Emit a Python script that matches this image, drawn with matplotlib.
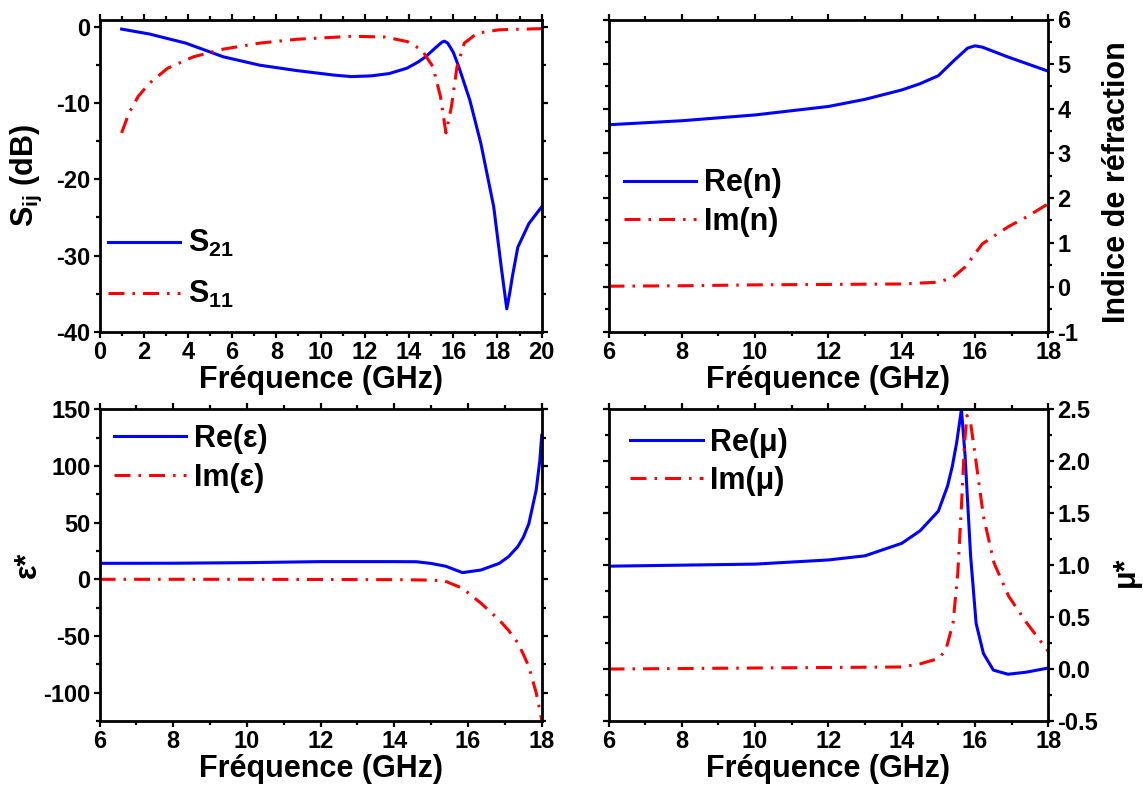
import matplotlib
matplotlib.use('Agg')
import matplotlib.pyplot as plt
from matplotlib.ticker import MultipleLocator

plt.rcParams['font.family'] = ['Liberation Sans', 'DejaVu Sans']
plt.rcParams['font.weight'] = 'bold'
plt.rcParams['axes.labelweight'] = 'bold'
plt.rcParams['axes.unicode_minus'] = False
plt.rcParams['mathtext.fontset'] = 'custom'
plt.rcParams['mathtext.rm'] = 'Liberation Sans:bold'
plt.rcParams['mathtext.it'] = 'Liberation Sans:bold'
plt.rcParams['mathtext.bf'] = 'Liberation Sans:bold'
plt.rcParams['lines.scale_dashes'] = False

# --- S parameters (0-20 GHz)
f_s21 = [1, 2.25, 3.9, 5.6, 7.25, 8.9, 10.6, 11.4, 12.3, 13.1, 13.9, 14.4, 14.75, 15.2,
         15.5, 15.6, 15.75, 16.0, 16.25, 16.75, 17.25, 17.83, 18.17, 18.42, 18.55, 18.67,
         18.92, 19.42, 20]
s21 = [-0.26, -0.9, -2.1, -3.9, -5.0, -5.7, -6.3, -6.5, -6.4, -6.1, -5.4, -4.6, -3.9, -2.7,
       -1.95, -1.85, -2.1, -3.3, -5.2, -9.6, -15.3, -23.6, -31.5, -37.0, -35.0, -32.8,
       -28.9, -25.8, -23.6]
f_s11 = [1, 1.33, 1.75, 2.25, 3.08, 4.25, 5.58, 7.25, 8.92, 11.42, 12.92, 13.92, 14.58,
         15.08, 15.42, 15.67, 15.92, 16.17, 16.5, 17.08, 18.08, 20]
s11 = [-13.9, -11.3, -9.1, -7.4, -5.4, -3.9, -2.9, -2.1, -1.6, -1.2, -1.3, -1.9, -3.0,
       -5.2, -9.1, -13.9, -10.4, -5.2, -2.1, -0.8, -0.35, -0.2]

# --- refractive index (6-18 GHz)
f_ren = [6, 8, 10, 12, 13, 14, 14.5, 15, 15.4, 15.8, 16, 16.2, 16.9, 18]
re_n = [3.64, 3.73, 3.86, 4.05, 4.21, 4.42, 4.56, 4.74, 5.06, 5.36, 5.41, 5.38, 5.16, 4.84]
f_imn = [6, 8, 10, 12, 14, 15, 15.4, 15.73, 15.93, 16.2, 16.9, 17.4, 18]
im_n = [0.02, 0.03, 0.05, 0.06, 0.07, 0.11, 0.22, 0.45, 0.67, 0.97, 1.35, 1.57, 1.87]

# --- permittivity
f_ree = [6, 8, 10, 12, 14, 14.6, 15, 15.4, 15.85, 16.35, 16.85, 17.1, 17.35, 17.5, 17.65,
         17.85, 17.95, 18]
re_eps = [14.1, 14.2, 14.7, 15.6, 15.6, 15.5, 14.0, 11.5, 5.9, 8.2, 14.1, 20, 28.8, 37, 49,
          78.7, 105, 127]
f_ime = [6, 10, 14, 14.8, 15.35, 15.85, 16.35, 16.85, 17.1, 17.35, 17.5, 17.65, 17.85, 18]
im_eps = [0, 0, -0.3, -0.6, -1.2, -7.9, -21, -36, -45, -56, -66, -77, -100, -124]

# --- permeability
f_rem = [6, 10, 12, 13, 14, 14.5, 15, 15.25, 15.38, 15.5, 15.63, 15.73, 15.88, 16.03, 16.23,
         16.5, 16.9, 17.4, 18]
re_mu = [0.99, 1.01, 1.05, 1.09, 1.21, 1.33, 1.52, 1.76, 1.95, 2.18, 2.5, 2.05, 1.09, 0.44,
         0.15, -0.01, -0.05, -0.03, 0.01]
f_imm = [6, 10, 14, 14.5, 15, 15.2, 15.4, 15.53, 15.63, 15.71, 15.78, 15.88, 16.03, 16.23,
         16.52, 16.92, 17.42, 18]
im_mu = [0, 0.01, 0.02, 0.05, 0.1, 0.18, 0.44, 0.92, 1.57, 2.15, 2.44, 2.37, 1.99, 1.47,
         1.02, 0.70, 0.44, 0.17]

BLUE = '#0000ff'
RED = '#ff0000'
LW = 2.2
DASH = (0, (11.5, 5.8, 1.8, 5.8))

fig = plt.figure(figsize=(11.43, 7.94), dpi=100)
W, H = 1143, 794


def make_ax(x0, x1, y0, y1):
    return fig.add_axes([x0 / W, 1 - y1 / H, (x1 - x0) / W, (y1 - y0) / H])


def style(ax, right_labels=False):
    for sp in ax.spines.values():
        sp.set_linewidth(2.0)
    ax.tick_params(which='both', direction='out', top=True, right=True, width=1.6,
                   labelsize=17, pad=2)
    ax.tick_params(which='major', length=4.5)
    ax.tick_params(which='minor', length=3)
    if right_labels:
        ax.tick_params(labelleft=False, labelright=True)
    ax.set_xlabel('Fréquence (GHz)', fontsize=22, labelpad=1)


def leg(ax, x, y, spacing):
    ax.legend(loc='upper left', bbox_to_anchor=(x, y), frameon=False, fontsize=22,
              handlelength=2.36, handletextpad=0.25, labelspacing=spacing,
              borderpad=0, borderaxespad=0)


ax1 = make_ax(99.5, 541.7, 19.5, 331.7)
ax2 = make_ax(608.5, 1048.3, 19.5, 331.7)
ax3 = make_ax(99.5, 541.7, 409.3, 721)
ax4 = make_ax(608.5, 1048.3, 409.3, 721)

# panel 1
ax1.plot(f_s21, s21, color=BLUE, lw=LW, label='S$_{21}$')
ax1.plot(f_s11, s11, color=RED, lw=LW, linestyle=DASH, label='S$_{11}$')
ax1.set_xlim(0, 20)
ax1.set_ylim(-40, 1)
ax1.xaxis.set_major_locator(MultipleLocator(2))
ax1.xaxis.set_minor_locator(MultipleLocator(1))
ax1.yaxis.set_major_locator(MultipleLocator(10))
ax1.yaxis.set_minor_locator(MultipleLocator(5))
style(ax1)
ax1.set_ylabel('S$_{ij}$ (dB)', fontsize=22)
ax1.yaxis.set_label_coords(-0.125, 0.5)
leg(ax1, 0.02, 0.331, 0.65)

# panel 2
ax2.plot(f_ren, re_n, color=BLUE, lw=LW, label='Re(n)')
ax2.plot(f_imn, im_n, color=RED, lw=LW, linestyle=DASH, label='Im(n)')
ax2.set_xlim(6, 18)
ax2.set_ylim(-1, 6)
ax2.xaxis.set_major_locator(MultipleLocator(2))
ax2.xaxis.set_minor_locator(MultipleLocator(1))
ax2.yaxis.set_major_locator(MultipleLocator(1))
ax2.yaxis.set_minor_locator(MultipleLocator(0.5))
style(ax2, right_labels=True)
ax2.yaxis.set_label_position('right')
ax2.set_ylabel('Indice de réfraction', fontsize=22)
ax2.yaxis.set_label_coords(1.121, 0.48)
leg(ax2, 0.035, 0.523, 0.28)

# panel 3
ax3.plot(f_ree, re_eps, color=BLUE, lw=LW, label='Re(ε)')
ax3.plot(f_ime, im_eps, color=RED, lw=LW, linestyle=DASH, label='Im(ε)')
ax3.set_xlim(6, 18)
ax3.set_ylim(-125, 150)
ax3.xaxis.set_major_locator(MultipleLocator(2))
ax3.xaxis.set_minor_locator(MultipleLocator(1))
ax3.yaxis.set_major_locator(MultipleLocator(50))
ax3.yaxis.set_minor_locator(MultipleLocator(25))
style(ax3)
ax3.set_ylabel('ε*', fontsize=22)
ax3.yaxis.set_label_coords(-0.128, 0.5)
leg(ax3, 0.033, 0.953, 0.28)

# panel 4
ax4.plot(f_rem, re_mu, color=BLUE, lw=LW, label='Re(μ)')
ax4.plot(f_imm, im_mu, color=RED, lw=LW, linestyle=DASH, label='Im(μ)')
ax4.set_xlim(6, 18)
ax4.set_ylim(-0.5, 2.5)
ax4.xaxis.set_major_locator(MultipleLocator(2))
ax4.xaxis.set_minor_locator(MultipleLocator(1))
ax4.yaxis.set_major_locator(MultipleLocator(0.5))
ax4.yaxis.set_minor_locator(MultipleLocator(0.25))
style(ax4, right_labels=True)
ax4.yaxis.set_label_position('right')
ax4.set_ylabel('μ*', fontsize=22)
ax4.yaxis.set_label_coords(1.143, 0.48)
leg(ax4, 0.05, 0.94, 0.25)

fig.savefig('out.png', dpi=100)
